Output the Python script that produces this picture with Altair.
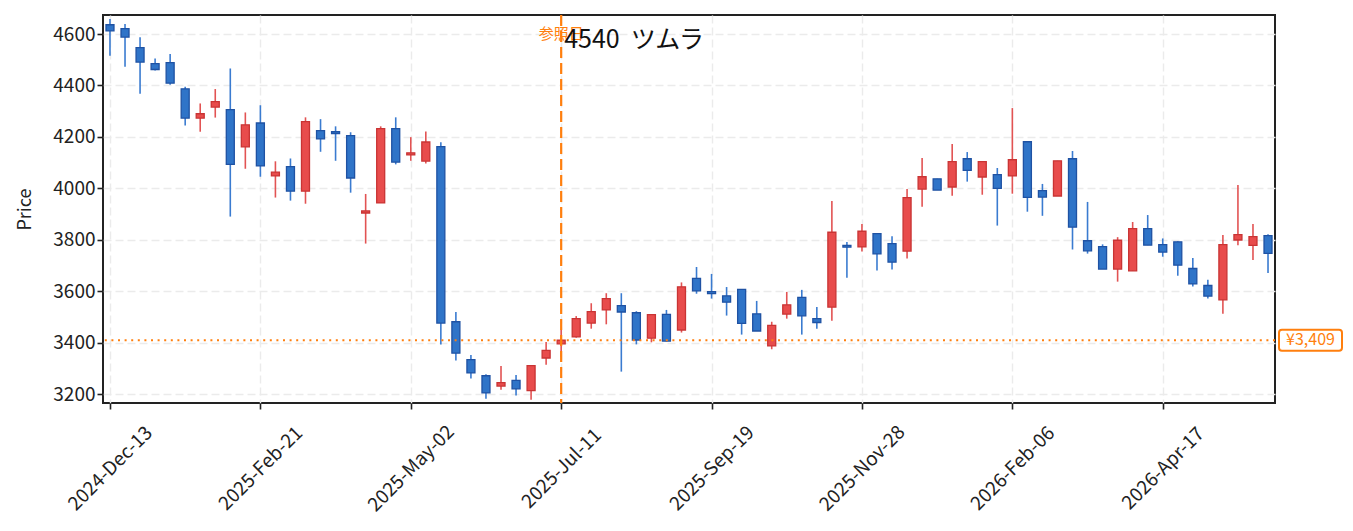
import altair as alt
import pandas as pd

# ---- data (weekly candles) ----
start_date = "2024-12-13"
n_weeks = 78
opens = [4636, 4621, 4547, 4485, 4489, 4387, 4273, 4316, 4306, 4161,
         4254, 4048, 4084, 3989, 4224, 4220, 4205, 3904, 3943, 4232,
         4130, 4106, 4162, 3481, 3334, 3271, 3231, 3253, 3213, 3340,
         3395, 3422, 3476, 3527, 3544, 3516, 3417, 3510, 3449, 3650,
         3598, 3582, 3607, 3512, 3387, 3511, 3576, 3493, 3538, 3778,
         3772, 3824, 3785, 3756, 3997, 4037, 4005, 4115, 4044, 4053,
         4048, 4181, 3991, 3970, 4115, 3796, 3773, 3686, 3679, 3843,
         3781, 3792, 3688, 3622, 3566, 3799, 3778, 3816]
highs = [4658, 4639, 4587, 4505, 4522, 4395, 4330, 4386, 4466, 4295,
         4323, 4105, 4116, 4276, 4269, 4241, 4218, 3978, 4241, 4276,
         4199, 4221, 4179, 3519, 3352, 3277, 3309, 3274, 3311, 3402,
         3451, 3503, 3553, 3592, 3592, 3522, 3510, 3527, 3634, 3694,
         3667, 3616, 3608, 3562, 3481, 3597, 3605, 3538, 3951, 3791,
         3861, 3825, 3814, 3997, 4118, 4037, 4172, 4141, 4104, 4079,
         4312, 4181, 4017, 4107, 4145, 3947, 3782, 3810, 3869, 3896,
         3805, 3794, 3729, 3644, 3818, 4013, 3861, 3821]
lows = [4516, 4473, 4368, 4458, 4403, 4244, 4220, 4275, 3890, 4076,
        4045, 3964, 3952, 3940, 4142, 4107, 3983, 3785, 3943, 4093,
        4107, 4096, 3393, 3330, 3260, 3182, 3217, 3194, 3178, 3314,
        3345, 3419, 3454, 3471, 3287, 3393, 3401, 3404, 3439, 3590,
        3571, 3505, 3431, 3445, 3374, 3493, 3431, 3454, 3485, 3652,
        3754, 3680, 3684, 3727, 3928, 3993, 3971, 4026, 3975, 3855,
        3979, 3909, 3893, 3970, 3762, 3746, 3686, 3637, 3679, 3779,
        3734, 3660, 3618, 3571, 3512, 3779, 3721, 3671]
closes = [4612, 4588, 4491, 4462, 4409, 4273, 4290, 4337, 4093, 4247,
          4087, 4063, 3989, 4259, 4192, 4213, 4040, 3912, 4232, 4102,
          4138, 4180, 3476, 3359, 3282, 3204, 3244, 3220, 3310, 3370,
          3409, 3493, 3520, 3571, 3519, 3410, 3509, 3406, 3617, 3601,
          3590, 3557, 3475, 3445, 3467, 3547, 3504, 3478, 3829, 3771,
          3833, 3745, 3713, 3964, 4045, 3993, 4104, 4070, 4104, 4000,
          4111, 3965, 3966, 4107, 3849, 3757, 3686, 3798, 3843, 3779,
          3752, 3701, 3628, 3581, 3781, 3820, 3812, 3747]

tick_dates = ["2024-12-13", "2025-02-21", "2025-05-02", "2025-07-11",
              "2025-09-19", "2025-11-28", "2026-02-06", "2026-04-17"]
y_ticks = [3200, 3400, 3600, 3800, 4000, 4200, 4400, 4600]
ref_date = "2025-07-11"
ref_price = 3409
title_text = "4540\u00a0\u00a0ツムラ"
ref_label = "参照日"

dates = pd.date_range(start_date, periods=n_weeks, freq="7D").strftime("%Y-%m-%d")
df = pd.DataFrame({"date": dates, "open": opens, "high": highs,
                   "low": lows, "close": closes})
df["dir"] = ["up" if c >= o else "down" for o, c in zip(opens, closes)]

RED_FILL, RED_LINE, RED_WICK = "#e84c4c", "#c93434", "#e25353"
BLUE_FILL, BLUE_LINE, BLUE_WICK = "#2f74c8", "#1f52a3", "#3a7bd0"
ORANGE = "#ff7f0e"
FONT = "Noto Sans CJK JP"


def dt(s, h=0):
    y, m, d = (int(p) for p in s.split("-"))
    return alt.DateTime(year=y, month=m, date=d, hours=h, utc=True)


x_scale = alt.Scale(type="utc", domain=[dt("2024-12-09", 18), dt("2026-06-08", 6)],
                    nice=False, padding=0)
y_scale = alt.Scale(domain=[3165, 4674], nice=False, zero=False, padding=0)

x_enc = alt.X("date:T", scale=x_scale,
              axis=alt.Axis(values=[dt(d) for d in tick_dates],
                            labelExpr="utcFormat(datum.value, '%Y-%b-%d')",
                            title=None, labelAngle=315,
                            labelAlign="center", labelBaseline="middle",
                            labelPadding=59, grid=True))

base = alt.Chart(df)

wicks = base.mark_rule(strokeWidth=1.6).encode(
    x=x_enc,
    y=alt.Y("low:Q", scale=y_scale,
            axis=alt.Axis(values=y_ticks, format="d", title="Price", grid=True,
                          titlePadding=18)),
    y2="high:Q",
    color=alt.Color("dir:N", scale=alt.Scale(domain=["up", "down"],
                                             range=[RED_WICK, BLUE_WICK]), legend=None),
)

bodies = base.mark_bar(size=8, strokeWidth=1.3).encode(
    x="date:T",
    y="open:Q",
    y2="close:Q",
    fill=alt.Fill("dir:N", scale=alt.Scale(domain=["up", "down"],
                                           range=[RED_FILL, BLUE_FILL]), legend=None),
    stroke=alt.Stroke("dir:N", scale=alt.Scale(domain=["up", "down"],
                                               range=[RED_LINE, BLUE_LINE]), legend=None),
)

ref_df = pd.DataFrame({"date": [ref_date], "price": [ref_price]})
ref = alt.Chart(ref_df)

vline = ref.mark_rule(color=ORANGE, strokeWidth=2.2, strokeDash=[11, 5]).encode(
    x="date:T")
hline = ref.mark_rule(color=ORANGE, strokeWidth=2, strokeDash=[2, 4.6]).encode(
    y="price:Q")

ref_text = ref.mark_text(text=ref_label, color=ORANGE, font=FONT, fontSize=15,
                         align="center", baseline="middle").encode(
    x="date:T", y=alt.value(19))

title = ref.mark_text(text=title_text, color="#111", font=FONT, fontSize=25,
                      align="left", baseline="middle", dx=3).encode(
    x="date:T", y=alt.value(25))

box_half = 41
box = ref.transform_calculate(top=f"datum.price + {box_half}",
                              bot=f"datum.price - {box_half}").mark_rect(
    fill="white", stroke=ORANGE, strokeWidth=2, cornerRadius=3).encode(
    x=alt.value(1176), x2=alt.value(1239), y="top:Q", y2="bot:Q")
box_text = ref.mark_text(text=f"¥{ref_price:,}", color=ORANGE, font=FONT,
                         fontSize=16, align="center", baseline="middle").encode(
    x=alt.value(1207.5), y="price:Q")

chart = alt.layer(wicks, bodies, vline, hline, ref_text, title, box, box_text).properties(
    width=1172, height=388,
    autosize=alt.AutoSizeParams(type="none"),
    padding={"left": 95, "top": 7, "right": 70, "bottom": 120},
).configure_view(
    stroke="#222", strokeWidth=2
).configure_axis(
    domain=False, tickColor="#222", tickSize=6, tickWidth=1.6,
    labelFont=FONT, labelFontSize=19, labelColor="#222",
    titleFont=FONT, titleFontSize=18, titleFontWeight="normal", titleColor="#222",
    gridColor="#ebebeb", gridDash=[8, 4], gridWidth=1.4,
)

chart.save("out.html", embed_options={"renderer": "svg", "actions": False})
